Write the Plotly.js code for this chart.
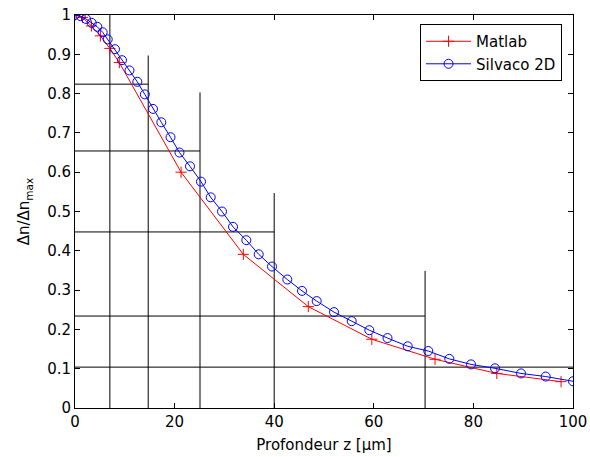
<!DOCTYPE html>
<html>
<head>
<meta charset="utf-8">
<script src="https://cdn.plot.ly/plotly-3.0.1.min.js"></script>
<style>
html,body{margin:0;padding:0;background:#fff;}
#chart{width:590px;height:457px;}
</style>
</head>
<body>
<div id="chart"></div>
<script>
// Matlab series (red, +)
var matlabX = [0, 1.5, 3.3, 5.1, 7.0, 8.9, 21.3, 33.8, 46.85, 59.6, 72.3, 84.7, 97.6];
var matlabY = [1.0, 0.994, 0.972, 0.947, 0.915, 0.879, 0.600, 0.391, 0.258, 0.175, 0.124, 0.088, 0.067];

// Silvaco 2D series (blue, o)
var silvacoX = [0, 1.14, 2.21, 3.35, 4.48, 5.56, 6.57, 8.03, 9.44, 10.94, 12.51, 14.02, 15.66, 17.33,
  19.18, 20.98, 23.09, 25.30, 27.25, 29.52, 31.73, 34.40, 36.89, 39.56, 42.63, 45.58, 48.53, 52.01,
  55.56, 59.10, 62.75, 66.81, 70.94, 75.16, 79.52, 84.34, 89.56, 94.52, 100];
var silvacoY = [1.0, 0.997, 0.990, 0.980, 0.970, 0.956, 0.938, 0.913, 0.885, 0.859, 0.830, 0.798, 0.761, 0.727,
  0.689, 0.650, 0.615, 0.576, 0.536, 0.500, 0.461, 0.427, 0.391, 0.360, 0.327, 0.298, 0.272, 0.244,
  0.221, 0.198, 0.178, 0.157, 0.145, 0.125, 0.111, 0.101, 0.088, 0.080, 0.068];

// Construction lines: verticals from y=0 up to a top, horizontals from x=0 to an end
var vLineX   = [7.0, 14.7, 25.1, 40.0, 70.3];
var vLineTop = [1.0, 0.897, 0.803, 0.547, 0.349];
var hLineY   = [0.824, 0.654, 0.448, 0.234, 0.104];
var hLineEnd = [14.7, 25.1, 40.0, 70.3, 100];

var xTicks = [0, 20, 40, 60, 80, 100];
var yTicks = [0, 0.1, 0.2, 0.3, 0.4, 0.5, 0.6, 0.7, 0.8, 0.9, 1];

var segX = [], segY = [];
for (var i = 0; i < vLineX.length; i++) {
  segX.push(vLineX[i], vLineX[i], null);
  segY.push(0, vLineTop[i], null);
}
for (var j = 0; j < hLineY.length; j++) {
  segX.push(0, hLineEnd[j], null);
  segY.push(hLineY[j], hLineY[j], null);
}

var FONT = 'DejaVu Sans, Liberation Sans, Arial, sans-serif';

var traces = [
  {x: segX, y: segY, mode: 'lines', line: {color: '#000', width: 1},
   showlegend: false, hoverinfo: 'skip'},
  {x: matlabX, y: matlabY, name: 'Matlab', mode: 'lines+markers',
   line: {color: '#ff0000', width: 1},
   marker: {symbol: 'cross-thin-open', size: 8, color: '#ff0000', line: {color: '#ff0000', width: 1}}},
  {x: silvacoX, y: silvacoY, name: 'Silvaco 2D', mode: 'lines+markers',
   line: {color: '#0000ff', width: 1},
   marker: {symbol: 'circle-open', size: 9, color: '#0000ff', line: {color: '#0000ff', width: 1}}}
];

var layout = {
  width: 590, height: 457,
  margin: {l: 75, r: 17, t: 15, b: 49, pad: 0},
  paper_bgcolor: '#fff', plot_bgcolor: '#fff',
  font: {family: FONT, size: 15, color: '#000'},
  showlegend: true,
  legend: {x: 0.978, y: 0.977, xanchor: 'right', yanchor: 'top',
    bgcolor: '#fff', bordercolor: '#000', borderwidth: 1, itemwidth: 45,
    font: {family: FONT, size: 15, color: '#000'}, tracegroupgap: 0},
  xaxis: {range: [0, 100], tickvals: xTicks, ticktext: xTicks.map(String),
    ticks: 'inside', ticklen: 5, tickcolor: '#000', tickwidth: 1,
    showline: true, linecolor: '#000', linewidth: 1, mirror: 'ticks',
    showgrid: false, zeroline: false,
    tickfont: {family: FONT, size: 15, color: '#000'},
    title: {text: 'Profondeur z [µm]', font: {family: FONT, size: 15, color: '#000'}, standoff: 9}},
  yaxis: {range: [0, 1], tickvals: yTicks, ticktext: yTicks.map(String),
    ticks: 'inside', ticklen: 5, tickcolor: '#000', tickwidth: 1,
    showline: true, linecolor: '#000', linewidth: 1, mirror: 'ticks',
    showgrid: false, zeroline: false,
    tickfont: {family: FONT, size: 15, color: '#000'},
    title: {text: 'Δn/Δn<sub>max</sub>', font: {family: FONT, size: 15, color: '#000'}, standoff: 13}}
};

Plotly.newPlot('chart', traces, layout, {displayModeBar: false, staticPlot: true});
</script>
</body>
</html>
